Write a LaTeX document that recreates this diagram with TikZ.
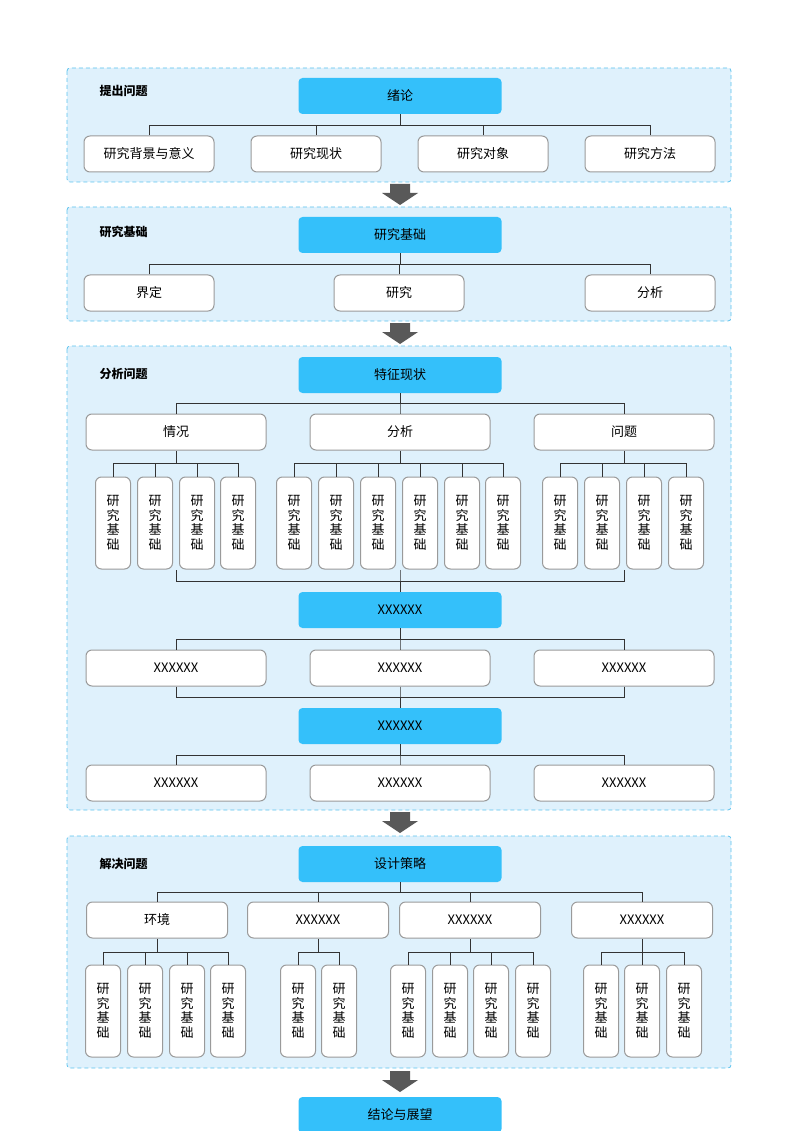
\documentclass[tikz,border=0pt]{standalone}
\usepackage{fontspec}
\setmainfont{Noto Sans CJK SC}
\definecolor{panelfill}{HTML}{DFF1FC}
\definecolor{paneldraw}{HTML}{5CC3EE}
\definecolor{headfill}{HTML}{34C0FA}
\definecolor{boxdraw}{HTML}{9A9A9A}
\definecolor{arrowgray}{HTML}{595959}
\tikzset{
	panel/.style={draw=paneldraw, fill=panelfill, line width=0.8pt, dash pattern=on 4pt off 3pt, rounded corners=3pt},
	headnode/.style={fill=headfill, rounded corners=4pt, minimum width=203pt, minimum height=36pt, font=\fontsize{13}{15}\selectfont},
	boxnode/.style={draw=boxdraw, line width=1pt, fill=white, rounded corners=6pt, minimum height=36pt, font=\fontsize{13}{15}\selectfont},
	leafnode/.style={draw=boxdraw, line width=1pt, fill=white, rounded corners=6pt, minimum width=35pt, minimum height=92pt, align=center, font=\fontsize{13}{14.5}\selectfont},
	titlenode/.style={anchor=west, font=\bfseries\fontsize{12}{14}\selectfont},
	bus/.style={draw=black!80, line width=0.7pt},
	bigarrow/.style={fill=arrowgray}
}
\newcommand{\downarrowat}[1]{%
	\fill[bigarrow] (390,#1) -- (410,#1) -- (410,#1+9) -- (418,#1+9) -- (400,#1+21) -- (382,#1+9) -- (390,#1+9) -- cycle;}
\newcommand{\leaftext}{研\\究\\基\\础}
\begin{document}
\begin{tikzpicture}[x=1pt, y=-1pt]
	\useasboundingbox (0,0) rectangle (800,1131);
	%Panels
	\draw[panel] (67,68) rectangle (731,182);
	\draw[panel] (67,207) rectangle (731,321);
	\draw[panel] (67,346) rectangle (731,810);
	\draw[panel] (67,836) rectangle (731,1068);
	\node[titlenode] (t1) at (96,91) {提出问题};
	\node[titlenode] (t2) at (96,232) {研究基础};
	\node[titlenode] (t3) at (96,374) {分析问题};
	\node[titlenode] (t4) at (96,864) {解决问题};
	%Arrows
	\downarrowat{184}
	\downarrowat{323}
	\downarrowat{812}
	\downarrowat{1071}
	
	%Panel 1
	\node[headnode] (h1) at (400,96) {绪论};
	\foreach \x/\name/\txt in {149/a1/研究背景与意义, 316/a2/研究现状, 483/a3/研究对象, 650/a4/研究方法}{
		\node[boxnode, minimum width=130pt] (\name) at (\x,154) {\txt};
		\draw[bus] (\name.north) -- (\x,125) -| (h1.south);
	}
	
	%Panel 2
	\node[headnode] (h2) at (400,235) {研究基础};
	\foreach \x/\name/\txt in {149/b1/界定, 399/b2/研究, 650/b3/分析}{
		\node[boxnode, minimum width=130pt] (\name) at (\x,293) {\txt};
		\draw[bus] (\name.north) -- (\x,264) -| (h2.south);
	}
	
	%Panel 3
	\node[headnode] (h3) at (400,375) {特征现状};
	\foreach \x/\name/\txt in {176/c1/情况, 400/c2/分析, 624/c3/问题}{
		\node[boxnode, minimum width=180pt] (\name) at (\x,432) {\txt};
		\draw[bus] (\name.north) -- (\x,403) -| (h3.south);
	}
	\foreach \x in {113,155,197,238}{
		\node[leafnode] (l1-\x) at (\x,523) {\leaftext};
		\draw[bus] (l1-\x.north) -- (\x,463) -| (c1.south);
	}
	\foreach \x in {294,336,378,420,462,503}{
		\node[leafnode] (l2-\x) at (\x,523) {\leaftext};
		\draw[bus] (l2-\x.north) -- (\x,463) -| (c2.south);
	}
	\foreach \x in {560,602,644,686}{
		\node[leafnode] (l3-\x) at (\x,523) {\leaftext};
		\draw[bus] (l3-\x.north) -- (\x,463) -| (c3.south);
	}
	\node[headnode] (h3b) at (400,610) {XXXXXX};
	\foreach \x in {176,400,624}{
		\draw[bus] (\x,570) -- (\x,581) -| (h3b.north);
	}
	\foreach \x/\name in {176/d1, 400/d2, 624/d3}{
		\node[boxnode, minimum width=180pt] (\name) at (\x,668) {XXXXXX};
		\draw[bus] (\name.north) -- (\x,639) -| (h3b.south);
	}
	\node[headnode] (h3c) at (400,726) {XXXXXX};
	\foreach \name in {d1,d2,d3}{
		\draw[bus] (\name.south) |- (400,697) -- (h3c.north);
	}
	\foreach \x/\name in {176/e1, 400/e2, 624/e3}{
		\node[boxnode, minimum width=180pt] (\name) at (\x,783) {XXXXXX};
		\draw[bus] (\name.north) -- (\x,755) -| (h3c.south);
	}
	
	%Panel 4
	\node[headnode] (h4) at (400,864) {设计策略};
	\foreach \x/\name/\txt in {157/f1/环境, 318/f2/XXXXXX, 470/f3/XXXXXX, 642/f4/XXXXXX}{
		\node[boxnode, minimum width=141pt] (\name) at (\x,920) {\txt};
		\draw[bus] (\name.north) -- (\x,892) -| (h4.south);
	}
	\foreach \x/\p in {103/f1,145/f1,187/f1,228/f1,298/f2,339/f2,408/f3,450/f3,491/f3,533/f3,601/f4,642/f4,684/f4}{
		\node[leafnode] (g-\x) at (\x,1011) {\leaftext};
		\draw[bus] (g-\x.north) -- (\x,952) -| (\p.south);
	}
	
	\node[headnode] (h5) at (400,1115) {结论与展望};
\end{tikzpicture}
\end{document}
